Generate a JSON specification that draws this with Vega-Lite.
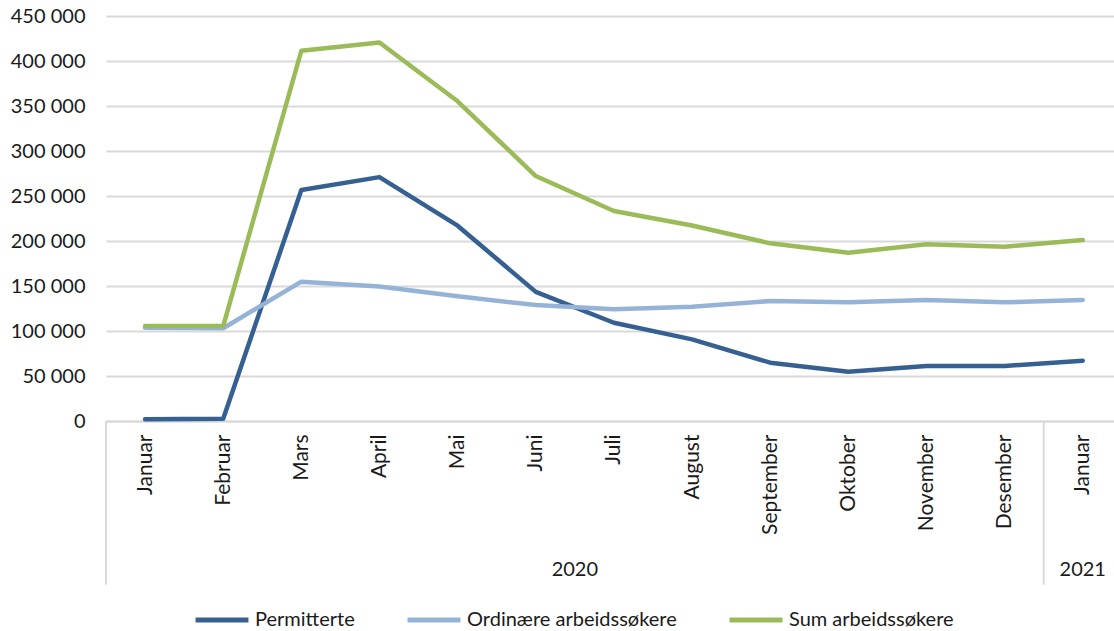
{
  "$schema": "https://vega.github.io/schema/vega-lite/v6.json",
  "autosize": {"type": "none"},
  "padding": {"left": 106, "top": 16, "right": 0, "bottom": 210},
  "width": 1008,
  "height": 405,
  "background": "white",
  "config": {
    "view": {"stroke": null},
    "font": "Lato",
    "axis": {"labelFont": "Lato", "labelFontSize": 20, "labelColor": "#1a1a1a"},
    "legend": {"labelFont": "Lato", "labelFontSize": 20, "labelColor": "#1a1a1a"}
  },
  "datasets": {
    "series": [
      {"i": 0, "serie": "Permitterte", "verdi": 2000},
      {"i": 1, "serie": "Permitterte", "verdi": 2500},
      {"i": 2, "serie": "Permitterte", "verdi": 256700},
      {"i": 3, "serie": "Permitterte", "verdi": 271000},
      {"i": 4, "serie": "Permitterte", "verdi": 217000},
      {"i": 5, "serie": "Permitterte", "verdi": 143500},
      {"i": 6, "serie": "Permitterte", "verdi": 109200},
      {"i": 7, "serie": "Permitterte", "verdi": 90700},
      {"i": 8, "serie": "Permitterte", "verdi": 64800},
      {"i": 9, "serie": "Permitterte", "verdi": 54800},
      {"i": 10, "serie": "Permitterte", "verdi": 61100},
      {"i": 11, "serie": "Permitterte", "verdi": 61100},
      {"i": 12, "serie": "Permitterte", "verdi": 67000},
      {"i": 0, "serie": "Ordinære arbeidssøkere", "verdi": 103500},
      {"i": 1, "serie": "Ordinære arbeidssøkere", "verdi": 103000},
      {"i": 2, "serie": "Ordinære arbeidssøkere", "verdi": 154800},
      {"i": 3, "serie": "Ordinære arbeidssøkere", "verdi": 149400},
      {"i": 4, "serie": "Ordinære arbeidssøkere", "verdi": 138500},
      {"i": 5, "serie": "Ordinære arbeidssøkere", "verdi": 128900},
      {"i": 6, "serie": "Ordinære arbeidssøkere", "verdi": 124100},
      {"i": 7, "serie": "Ordinære arbeidssøkere", "verdi": 127000},
      {"i": 8, "serie": "Ordinære arbeidssøkere", "verdi": 133300},
      {"i": 9, "serie": "Ordinære arbeidssøkere", "verdi": 131900},
      {"i": 10, "serie": "Ordinære arbeidssøkere", "verdi": 134400},
      {"i": 11, "serie": "Ordinære arbeidssøkere", "verdi": 131900},
      {"i": 12, "serie": "Ordinære arbeidssøkere", "verdi": 134400},
      {"i": 0, "serie": "Sum arbeidssøkere", "verdi": 105500},
      {"i": 1, "serie": "Sum arbeidssøkere", "verdi": 105500},
      {"i": 2, "serie": "Sum arbeidssøkere", "verdi": 411400},
      {"i": 3, "serie": "Sum arbeidssøkere", "verdi": 420600},
      {"i": 4, "serie": "Sum arbeidssøkere", "verdi": 355200},
      {"i": 5, "serie": "Sum arbeidssøkere", "verdi": 272200},
      {"i": 6, "serie": "Sum arbeidssøkere", "verdi": 233300},
      {"i": 7, "serie": "Sum arbeidssøkere", "verdi": 217200},
      {"i": 8, "serie": "Sum arbeidssøkere", "verdi": 197400},
      {"i": 9, "serie": "Sum arbeidssøkere", "verdi": 187000},
      {"i": 10, "serie": "Sum arbeidssøkere", "verdi": 196300},
      {"i": 11, "serie": "Sum arbeidssøkere", "verdi": 193700},
      {"i": 12, "serie": "Sum arbeidssøkere", "verdi": 201100}
    ],
    "years": [
      {"aar": "2020", "midt": 5.5},
      {"aar": "2021", "midt": 12}
    ],
    "skille": [
      {"grense": -0.5},
      {"grense": 11.5}
    ]
  },
  "layer": [
    {
      "data": {"name": "series"},
      "mark": {"type": "line", "strokeWidth": 4.5, "strokeCap": "round", "strokeJoin": "round"},
      "encoding": {
        "x": {
          "field": "i", "type": "quantitative",
          "scale": {"domain": [-0.5, 12.4], "nice": false, "zero": false},
          "axis": {
            "title": null, "orient": "bottom",
            "values": [0,1,2,3,4,5,6,7,8,9,10,11,12],
            "labelExpr": "['Januar','Februar','Mars','April','Mai','Juni','Juli','August','September','Oktober','November','Desember','Januar'][datum.value]",
            "labelAngle": -90, "labelPadding": 13, "labelAlign": "right", "labelBaseline": "middle",
            "labelFontSize": 21,
            "ticks": false, "grid": false,
            "domain": true, "domainColor": "#D9D9D9", "domainWidth": 2,
            "labelFlush": false, "labelOverlap": false
          }
        },
        "y": {
          "field": "verdi", "type": "quantitative",
          "scale": {"domain": [0, 450000], "nice": false},
          "axis": {
            "title": null,
            "values": [0,50000,100000,150000,200000,250000,300000,350000,400000,450000],
            "labelExpr": "replace(format(datum.value, ','), ',', ' ')",
            "labelPadding": 21, "ticks": false, "domain": false,
            "grid": true, "gridColor": "#D9D9D9", "gridWidth": 2
          }
        },
        "color": {
          "field": "serie", "type": "nominal",
          "scale": {
            "domain": ["Permitterte", "Ordinære arbeidssøkere", "Sum arbeidssøkere"],
            "range": ["#376092", "#95B3D7", "#9BBB59"]
          },
          "legend": {
            "title": null, "orient": "none", "direction": "horizontal",
            "legendX": 87, "legendY": 575,
            "symbolType": "stroke", "symbolSize": 2800, "symbolStrokeWidth": 5,
            "columnPadding": 42, "labelOffset": 4, "labelLimit": 400
          }
        }
      }
    },
    {
      "data": {"name": "skille"},
      "mark": {"type": "rule", "color": "#D9D9D9", "strokeWidth": 2, "clip": false},
      "encoding": {
        "x": {"field": "grense", "type": "quantitative"},
        "y": {"datum": 0},
        "y2": {"datum": -182000}
      }
    },
    {
      "data": {"name": "years"},
      "mark": {"type": "text", "fontSize": 20, "font": "Lato", "color": "#1a1a1a", "baseline": "middle", "align": "center", "clip": false},
      "encoding": {
        "x": {"field": "midt", "type": "quantitative"},
        "y": {"datum": -166000},
        "text": {"field": "aar"}
      }
    }
  ]
}
